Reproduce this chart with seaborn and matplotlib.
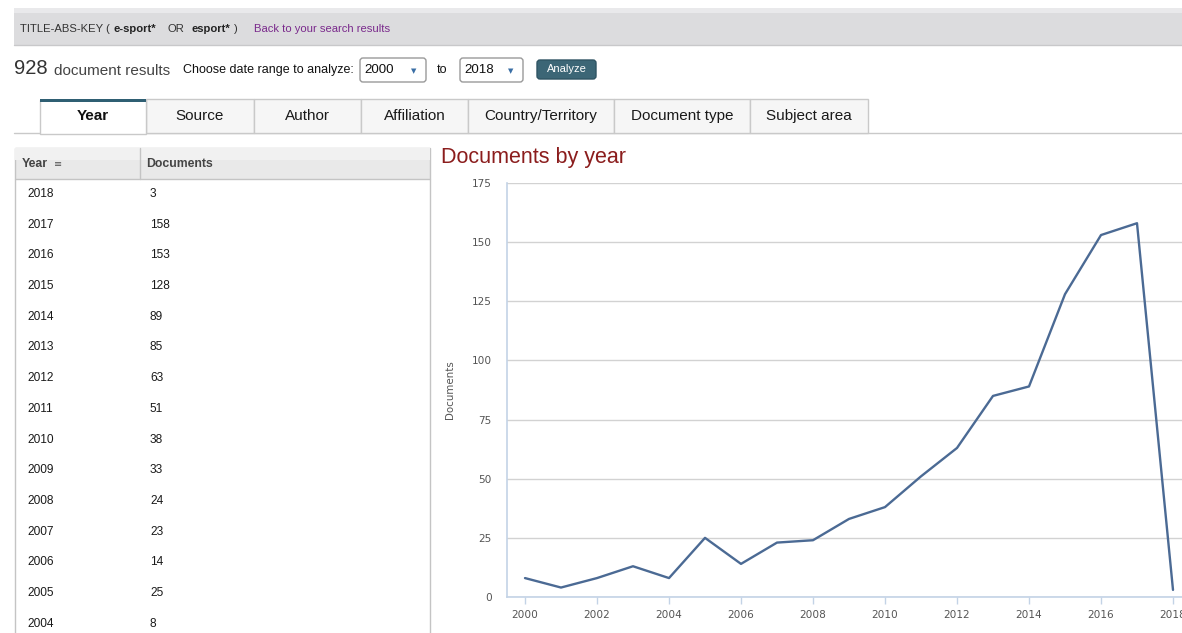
import matplotlib
matplotlib.use("Agg")
import matplotlib.pyplot as plt
import seaborn as sns
import pandas as pd
from matplotlib.patches import Rectangle, FancyBboxPatch

# data
years = [2000, 2001, 2002, 2003, 2004, 2005, 2006, 2007, 2008, 2009,
         2010, 2011, 2012, 2013, 2014, 2015, 2016, 2017, 2018]
docs = [8, 4, 8, 13, 8, 25, 14, 23, 24, 33,
        38, 51, 63, 85, 89, 128, 153, 158, 3]
tabs = ["Year", "Source", "Author", "Affiliation", "Country/Territory",
        "Document type", "Subject area"]
tab_edges = [40, 146, 254, 361, 468, 614, 750, 868]
y_ticks = [0, 25, 50, 75, 100, 125, 150, 175]
x_ticks = [2000, 2002, 2004, 2006, 2008, 2010, 2012, 2014, 2016, 2018]

df = pd.DataFrame({"Year": years, "Documents": docs})

sns.set_theme(style="white")
plt.rcParams["font.family"] = ["Liberation Sans", "DejaVu Sans"]

W, H = 1182, 633
fig = plt.figure(figsize=(W / 100, H / 100), dpi=100)

# background axes in pixel coordinates for the page chrome
bg = fig.add_axes([0, 0, 1, 1])
bg.set_xlim(0, W)
bg.set_ylim(H, 0)
bg.axis("off")

# search bar
bg.add_patch(Rectangle((14, 8), W, 5, color="#e9e9eb", lw=0))
bg.add_patch(Rectangle((14, 13), W, 32, color="#dcdcde", lw=0))
bg.plot([14, W], [45, 45], color="#c8c8ca", lw=1)
bg.text(20, 29, "TITLE-ABS-KEY (", fontsize=8.1, color="#333333", va="center")
bg.text(114, 29, "e-sport*", fontsize=8.1, color="#222222", va="center", weight="bold")
bg.text(167, 29, "OR", fontsize=8.1, color="#333333", va="center")
bg.text(191, 29, "esport*", fontsize=8.1, color="#222222", va="center", weight="bold")
bg.text(234, 29, ")", fontsize=8.1, color="#333333", va="center")
bg.text(254, 29, "Back to your search results", fontsize=8.1, color="#7a2a8c", va="center")

# result count and date range
bg.text(14, 69, "928", fontsize=14.5, color="#333333", va="center")
bg.text(54, 71, "document results", fontsize=11, color="#444444", va="center")
bg.text(183, 70, "Choose date range to analyze:", fontsize=9, color="#111111", va="center")
for x0, x1, lab in [(360, 426, "2000"), (460, 523, "2018")]:
    bg.add_patch(FancyBboxPatch((x0, 58), x1 - x0, 24, boxstyle="round,pad=0,rounding_size=3",
                                fc="white", ec="#9a9a9a", lw=1))
    bg.text(x0 + 4, 70, lab, fontsize=9.6, color="#111111", va="center")
    bg.text(x1 - 12, 71, "\u25bc", fontsize=5, color="#3a6ea5", va="center", ha="center",
            family="DejaVu Sans")
bg.text(437, 70, "to", fontsize=9, color="#111111", va="center")
bg.add_patch(FancyBboxPatch((537, 60), 59, 19, boxstyle="round,pad=0,rounding_size=3",
                            fc="#3c6676", ec="#2f5463", lw=1))
bg.text(566.5, 69.5, "Analyze", fontsize=8, color="white", va="center", ha="center")

# tabs
bg.plot([14, W], [133, 133], color="#c9c9c9", lw=1)
for i, name in enumerate(tabs):
    x0, x1 = tab_edges[i], tab_edges[i + 1]
    if i == 0:
        bg.add_patch(Rectangle((x0, 100), x1 - x0, 34, fc="white", ec="#c9c9c9", lw=1, zorder=3))
        bg.add_patch(Rectangle((x0, 99), x1 - x0, 3, fc="#2f5f73", lw=0, zorder=4))
        bg.text((x0 + x1) / 2, 116, name, fontsize=11, weight="bold", color="#111111",
                ha="center", va="center", zorder=5)
    else:
        bg.add_patch(Rectangle((x0, 99), x1 - x0, 34, fc="#f6f6f6", ec="#c9c9c9", lw=1, zorder=2))
        bg.text((x0 + x1) / 2, 116, name, fontsize=11, color="#1a1a1a",
                ha="center", va="center", zorder=5)

# table
bg.add_patch(Rectangle((15, 148), 415, 31, fc="#e9e9e9", ec="#c4c4c4", lw=1))
bg.add_patch(Rectangle((15, 148), 415, 12, fc="#f1f1f1", lw=0))
bg.plot([15, 15], [179, H], color="#c4c4c4", lw=1)
bg.plot([430, 430], [179, H], color="#c4c4c4", lw=1)
bg.plot([140, 140], [148, 179], color="#c4c4c4", lw=1)
bg.text(22, 164, "Year", fontsize=8.8, weight="bold", color="#444444", va="center")
bg.text(54, 164, "\u2261", fontsize=7, color="#555555", va="center", family="DejaVu Sans")
bg.text(146, 164, "Documents", fontsize=8.8, weight="bold", color="#444444", va="center")
for j, (yr, n) in enumerate(zip(years[::-1], docs[::-1])):
    ry = 194 + j * 30.7
    if ry > H - 7:
        break
    bg.text(27, ry, str(yr), fontsize=8.6, color="#1a1a1a", va="center")
    bg.text(150, ry, str(n), fontsize=8.6, color="#1a1a1a", va="center")

# chart
bg.text(441, 157, "Documents by year", fontsize=15.5, color="#8b1d1d", va="center")

ax = fig.add_axes([507 / W, (H - 597) / H, (1191 - 507) / W, (597 - 183) / H])
ax.set_facecolor("none")
sns.lineplot(data=df, x="Year", y="Documents", ax=ax, color="#4b6a94", linewidth=1.7)
ax.set_xlim(1999.5, 2018.5)
ax.set_ylim(0, 175)
ax.set_yticks(y_ticks)
ax.set_xticks(x_ticks)
ax.yaxis.grid(True, color="#d2d2d2", linewidth=1)
ax.set_axisbelow(True)
for s in ["top", "right"]:
    ax.spines[s].set_visible(False)
for s in ["left", "bottom"]:
    ax.spines[s].set_color("#c3d3e6")
    ax.spines[s].set_linewidth(1.2)
ax.tick_params(axis="y", length=0, pad=11, labelsize=7.6, labelcolor="#555555")
ax.tick_params(axis="x", length=5, width=1, color="#c3d3e6", pad=4, labelsize=7.6,
               labelcolor="#555555", bottom=True)
for lab in ax.get_xticklabels() + ax.get_yticklabels():
    lab.set_family("DejaVu Sans")
ax.set_xlabel("")
ax.set_ylabel("Documents", fontsize=7.4, color="#555555", family="DejaVu Sans", labelpad=12)

fig.savefig("out.png", dpi=100)
